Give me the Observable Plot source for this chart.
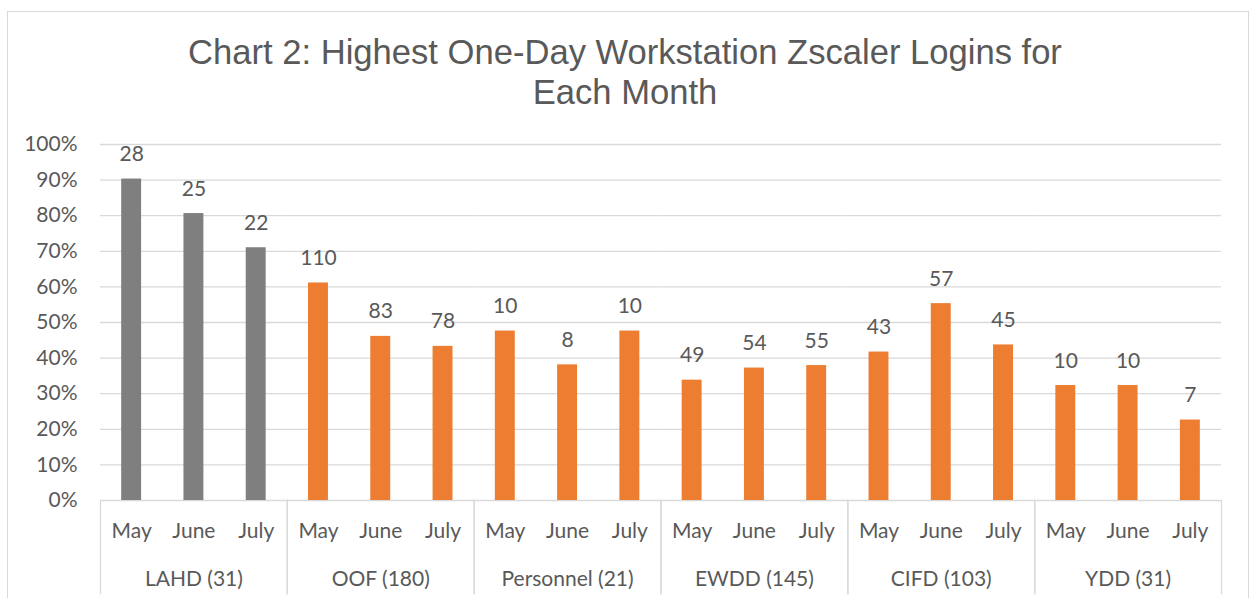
<!DOCTYPE html>
<html><head><meta charset="utf-8">
<script src="https://cdn.jsdelivr.net/npm/d3@7"></script>
<script src="https://cdn.jsdelivr.net/npm/@observablehq/plot@0.6"></script>
<style>
body{margin:0;background:#fff;width:1250px;height:598px;overflow:hidden;position:relative;font-family:Lato,sans-serif}
#box{position:absolute;left:7px;top:11px;width:1242px;height:700px;border:1px solid #d9d9d9;box-sizing:border-box}
#title{position:absolute;left:0;top:32px;width:1250px;text-align:center;font-family:"Liberation Sans",Arial,sans-serif;font-size:34.6px;line-height:40px;color:#595959}
#chart{position:absolute;left:0;top:125px}
</style></head><body>
<div id="box"></div>
<div id="title">Chart 2: Highest One-Day Workstation Zscaler Logins for<br>Each Month</div>
<div id="chart"></div>
<script>
const groups = ["LAHD (31)", "OOF (180)", "Personnel (21)", "EWDD (145)", "CIFD (103)", "YDD (31)"];
const months = ["May", "June", "July"];
const counts = [[28, 25, 22], [110, 83, 78], [10, 8, 10], [49, 54, 55], [43, 57, 45], [10, 10, 7]];
const shares = [[0.903, 0.806, 0.710], [0.611, 0.461, 0.433], [0.476, 0.381, 0.476], [0.338, 0.372, 0.379], [0.417, 0.553, 0.437], [0.323, 0.323, 0.226]];
const groupColors = ["#7f7f7f", "#ed7d31", "#ed7d31", "#ed7d31", "#ed7d31", "#ed7d31"];
const yTicks = [0, 0.1, 0.2, 0.3, 0.4, 0.5, 0.6, 0.7, 0.8, 0.9, 1.0];

const rows = [];
groups.forEach((g, i) => months.forEach((m, j) => rows.push({group: g, month: m, share: shares[i][j], count: counts[i][j], color: groupColors[i]})));

const grid = "#d9d9d9";
const plot = Plot.plot({
  width: 1250, height: 473,
  marginTop: 19, marginBottom: 98, marginLeft: 100, marginRight: 29,
  style: {fontFamily: "Lato, sans-serif", fontSize: "21px", color: "#595959", background: "transparent", overflow: "visible"},
  fx: {domain: groups, padding: 0, round: false, label: null, axis: null},
  x: {domain: months, paddingInner: 0.68, paddingOuter: 0.34, round: false, axis: null, label: null},
  y: {domain: [0, 1], axis: null},
  marks: [
    Plot.gridY(yTicks, {stroke: grid, strokeOpacity: 1, strokeWidth: 1.3}),
    Plot.frame({anchor: "left", stroke: grid, strokeOpacity: 1, strokeWidth: 1.3, insetTop: 356, insetBottom: -93}),
    Plot.frame({anchor: "right", stroke: grid, strokeOpacity: 1, strokeWidth: 1.3, insetTop: 356, insetBottom: -93}),
    Plot.barY(rows, {fx: "group", x: "month", y: "share", fill: "color"}),
    Plot.text(rows, {fx: "group", x: "month", y: "share", text: d => String(d.count), lineAnchor: "bottom", dy: -18, fill: "#595959", fontSize: 21}),
    Plot.axisY(yTicks, {tickSize: 0, tickPadding: 23, tickFormat: d => Math.round(d * 100) + "%", fontSize: 21, label: null}),
    Plot.axisX({tickSize: 0, tickPadding: 23, fontSize: 21, label: null}),
    Plot.axisFx({anchor: "bottom", tickSize: 0, tickPadding: 71, fontSize: 21, label: null})
  ]
});
document.getElementById("chart").appendChild(plot);
</script>
</body></html>
